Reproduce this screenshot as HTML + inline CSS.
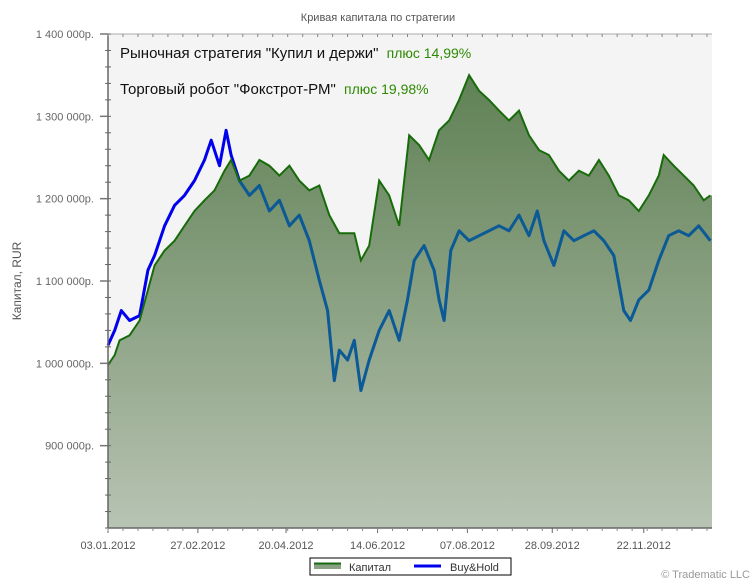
<!DOCTYPE html>
<html><head><meta charset="utf-8"><style>
body{margin:0;width:755px;height:583px;background:#fff;overflow:hidden;font-family:"Liberation Sans",sans-serif}
svg text{font-family:"Liberation Sans",sans-serif}
</style></head><body>
<svg id="chart" width="755" height="583" xmlns="http://www.w3.org/2000/svg">
<defs><linearGradient id="fillg" x1="0" y1="0" x2="0" y2="1">
<stop offset="0" stop-color="#4f7443" stop-opacity="0.9"/><stop offset="1" stop-color="#b5c1b0" stop-opacity="0.95"/></linearGradient>
<clipPath id="areaclip"><path id="clipp" d=""/></clipPath></defs>
<rect x="108" y="34" width="604" height="494" fill="#f4f4f4"/>
<text x="378" y="21" font-size="11" fill="#555" text-anchor="middle">Кривая капитала по стратегии</text>
<text transform="translate(21,281) rotate(-90)" font-size="12" fill="#555" text-anchor="middle">Капитал, RUR</text>
<g id="series"></g>
<g id="axes"></g>
<text x="120" y="58" font-size="15" fill="#111">Рыночная стратегия "Купил и держи" <tspan fill="#2e8a00" font-size="14" dx="4">плюс 14,99%</tspan></text>
<text x="120" y="94" font-size="15" fill="#111">Торговый робот "Фокстрот-РМ" <tspan fill="#2e8a00" font-size="14" dx="4">плюс 19,98%</tspan></text>
<g>
<rect x="310" y="558" width="201" height="17" fill="#fff" stroke="#000"/>
<rect x="314" y="563" width="27" height="6" fill="#8aa083"/><line x1="314" y1="563.5" x2="341" y2="563.5" stroke="#1a6a10" stroke-width="2"/>
<text x="349" y="571" font-size="11" fill="#333">Капитал</text>
<line x1="414" y1="566" x2="441" y2="566" stroke="#0000ee" stroke-width="3"/>
<text x="450" y="571" font-size="11" fill="#333">Buy&amp;Hold</text>
</g>
<text x="750" y="578" font-size="11" fill="#999" text-anchor="end">© Tradematic LLC</text>
</svg>
<script>
const capDays=[0,4,7,13,19,24,28,34,40,46,52,58,64,70,74,79,85,91,97,103,109,115,121,127,133,139,148,152,157,163,169,175,181,187,193,199,205,211,217,223,229,235,241,247,253,259,265,271,277,283,289,295,301,307,313,319,325,331,334,340,346,352,358,362];
const capVals=[998,1010,1028,1034,1052,1089,1119,1137,1149,1167,1185,1198,1210,1234,1247,1222,1228,1247,1240,1228,1240,1222,1210,1216,1180,1158,1158,1125,1143,1222,1204,1167,1277,1265,1247,1283,1295,1320,1350,1331,1320,1307,1295,1307,1277,1259,1253,1234,1222,1234,1228,1247,1228,1204,1198,1185,1204,1228,1253,1240,1228,1216,1198,1204];
const bhDays=[0,4,8,13,19,24,28,34,40,46,52,58,62,67,71,74,79,85,91,97,103,109,115,121,127,132,136,139,144,148,152,157,163,169,175,180,184,190,196,199,202,206,211,217,223,229,235,241,247,253,258,262,268,274,280,286,292,298,304,310,314,319,325,331,337,343,349,355,362];
const bhVals=[1022,1040,1064,1052,1058,1113,1131,1167,1192,1204,1222,1247,1271,1240,1283,1253,1222,1204,1216,1185,1198,1167,1180,1149,1101,1064,979,1016,1004,1028,967,1004,1040,1064,1028,1077,1125,1143,1113,1077,1052,1137,1161,1149,1155,1161,1167,1161,1180,1155,1185,1149,1119,1161,1149,1155,1161,1149,1131,1064,1052,1077,1089,1125,1155,1161,1155,1167,1149];
const yTicks=[900,1000,1100,1200,1300,1400];
const yTickLabels=["900 000р.","1 000 000р.","1 100 000р.","1 200 000р.","1 300 000р.","1 400 000р."];
const xTickDays=[0,54,107,162,216,267,322];
const xTickLabels=["03.01.2012","27.02.2012","20.04.2012","14.06.2012","07.08.2012","28.09.2012","22.11.2012"];
const X0=108,X1=712,Y0=528,Y1=34,DMAX=363,VMIN=800,VMAX=1400;
const sx=d=>X0+d/DMAX*(X1-X0);
const sy=v=>Y0-(v-VMIN)/(VMAX-VMIN)*(Y0-Y1);
const NS="http://www.w3.org/2000/svg";
function mk(tag,attrs,parent){const e=document.createElementNS(NS,tag);for(const k in attrs)e.setAttribute(k,attrs[k]);parent.appendChild(e);return e;}
const series=document.getElementById('series'),axes=document.getElementById('axes');
let bp=bhDays.map((d,i)=>(i?'L':'M')+sx(d).toFixed(1)+','+sy(bhVals[i]).toFixed(1)).join(' ');
const bl=mk('path',{d:bp,fill:'none',stroke:'#0000ee','stroke-width':3,'stroke-linejoin':'round'},series);


let cp='M'+sx(0)+','+Y0;
capDays.forEach((d,i)=>{cp+=' L'+sx(d).toFixed(1)+','+sy(capVals[i]).toFixed(1);});
cp+=' L'+X1+','+sy(capVals[capVals.length-1]).toFixed(1)+' L'+X1+','+Y0+' Z';
document.getElementById('clipp').setAttribute('d',cp);
const ca=mk('path',{d:cp,fill:'url(#fillg)',stroke:'none'},series);


const bl2=mk('path',{d:bp,fill:'none',stroke:'#0b5a96','stroke-width':3,'stroke-linejoin':'round','clip-path':'url(#areaclip)'},series);


let cl=capDays.map((d,i)=>(i?'L':'M')+sx(d).toFixed(1)+','+sy(capVals[i]).toFixed(1)).join(' ');
const cline=mk('path',{d:cl,fill:'none',stroke:'#176b0a','stroke-width':2},series);


mk('line',{x1:X0,y1:Y1,x2:X0,y2:Y0,stroke:'#666','stroke-width':1.5},axes);
mk('line',{x1:X0,y1:Y0,x2:X1,y2:Y0,stroke:'#666','stroke-width':1.5},axes);
mk('line',{x1:X0,y1:Y1,x2:X1,y2:Y1,stroke:'#aaa','stroke-width':1},axes);
for(let v=VMIN;v<=VMAX;v+=20){mk('line',{x1:X0-3,y1:sy(v),x2:X0+3,y2:sy(v),stroke:'#666','stroke-width':1},axes);}
yTicks.forEach((v,i)=>{
 mk('line',{x1:X0-8,y1:sy(v),x2:X0,y2:sy(v),stroke:'#777','stroke-width':1.5},axes);
 const t=mk('text',{x:X0-14,y:sy(v)+4,'font-size':11,fill:'#666','text-anchor':'end'},axes);
 t.textContent=yTickLabels[i];
 
 
});
xTickDays.forEach((d,i)=>{
 mk('line',{x1:sx(d),y1:Y0,x2:sx(d),y2:Y0+5,stroke:'#666'},axes);
 const t=mk('text',{x:sx(d),y:Y0+21,'font-size':11,fill:'#555','text-anchor':'middle'},axes);
 t.textContent=xTickLabels[i];
 
 
});
for(let d=0;d<=DMAX;d+=9){mk('line',{x1:sx(d),y1:Y0,x2:sx(d),y2:Y0+3,stroke:'#888'},axes);mk('line',{x1:sx(d),y1:Y1,x2:sx(d),y2:Y1+3,stroke:'#888'},axes);}
</script>
</body></html>
